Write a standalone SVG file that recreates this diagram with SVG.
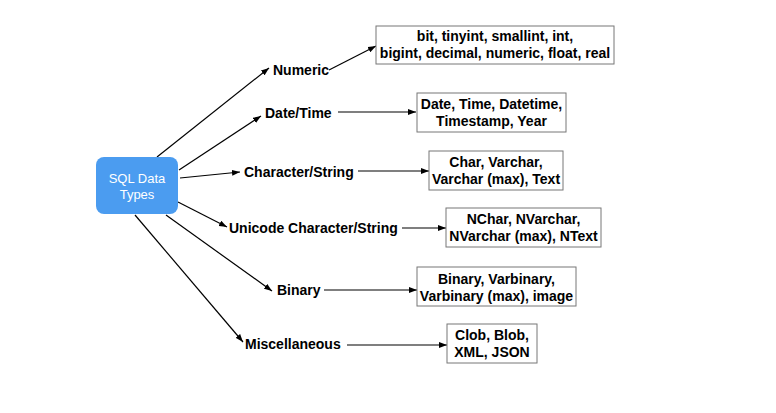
<svg xmlns="http://www.w3.org/2000/svg" width="776" height="413" viewBox="0 0 776 413">
<style>
.lbl{font-family:"Liberation Sans",Arial,sans-serif;font-weight:bold;font-size:14px;fill:#000}
.bx{fill:#fff;stroke:#777;stroke-width:1}
.bt{font-family:"Liberation Sans",Arial,sans-serif;font-weight:bold;font-size:14px;fill:#000;text-anchor:middle}
.ln{stroke:#000;stroke-width:1.2;fill:none;marker-end:url(#ah)}
.root{font-family:"Liberation Sans",Arial,sans-serif;font-size:13px;fill:#fff;text-anchor:middle}
</style>
<defs>
<marker id="ah" viewBox="0 0 8 6" refX="8" refY="3" markerWidth="8" markerHeight="6" markerUnits="userSpaceOnUse" orient="auto">
<path d="M0,0 L8,3 L0,6 Z" fill="#000"/>
</marker>
</defs>
<rect width="776" height="413" fill="#fff"/>
<g id="connectors">
<line class="ln" x1="157" y1="157" x2="269" y2="68"/>
<line class="ln" x1="179" y1="170" x2="261" y2="116"/>
<line class="ln" x1="180" y1="178" x2="240" y2="172"/>
<line class="ln" x1="178" y1="202" x2="227" y2="227"/>
<line class="ln" x1="166" y1="215" x2="272" y2="291"/>
<line class="ln" x1="135" y1="215" x2="243" y2="342"/>
<line class="ln" x1="329" y1="70" x2="376" y2="46"/>
<line class="ln" x1="338" y1="112" x2="416" y2="112"/>
<line class="ln" x1="358" y1="171" x2="429" y2="171"/>
<line class="ln" x1="402" y1="228" x2="446" y2="228"/>
<line class="ln" x1="324" y1="290" x2="417" y2="290"/>
<line class="ln" x1="347" y1="345" x2="447" y2="345"/>
</g>
<g id="root">
<rect x="96" y="157" width="82" height="57" rx="8" fill="#4b9cf0"/>
<text class="root" x="137" y="183">SQL Data</text>
<text class="root" x="137" y="199">Types</text>
</g>
<g id="numeric"><text class="lbl" x="273" y="75">Numeric</text></g>
<g id="datetime"><text class="lbl" x="265" y="118">Date/Time</text></g>
<g id="character"><text class="lbl" x="244" y="177">Character/String</text></g>
<g id="unicode"><text class="lbl" x="229" y="233">Unicode Character/String</text></g>
<g id="binary"><text class="lbl" x="277" y="295">Binary</text></g>
<g id="misc"><text class="lbl" x="245" y="349">Miscellaneous</text></g>
<g id="numeric-types">
<rect class="bx" x="376" y="26" width="238" height="38"/>
<text class="bt" x="495" y="41">bit, tinyint, smallint, int,</text>
<text class="bt" x="495" y="58">bigint, decimal, numeric, float, real</text>
</g>
<g id="datetime-types">
<rect class="bx" x="417" y="93" width="149" height="39"/>
<text class="bt" x="491.5" y="109">Date, Time, Datetime,</text>
<text class="bt" x="491.5" y="126">Timestamp, Year</text>
</g>
<g id="character-types">
<rect class="bx" x="429" y="151" width="134" height="39"/>
<text class="bt" x="496" y="167">Char, Varchar,</text>
<text class="bt" x="496" y="184">Varchar (max), Text</text>
</g>
<g id="unicode-types">
<rect class="bx" x="446" y="208" width="155" height="39"/>
<text class="bt" x="523.5" y="224">NChar, NVarchar,</text>
<text class="bt" x="523.5" y="241">NVarchar (max), NText</text>
</g>
<g id="binary-types">
<rect class="bx" x="417" y="267" width="159" height="39"/>
<text class="bt" x="496.5" y="284">Binary, Varbinary,</text>
<text class="bt" x="496.5" y="301">Varbinary (max), image</text>
</g>
<g id="misc-types">
<rect class="bx" x="447" y="324" width="90" height="39"/>
<text class="bt" x="492" y="340">Clob, Blob,</text>
<text class="bt" x="492" y="357">XML, JSON</text>
</g>
</svg>
